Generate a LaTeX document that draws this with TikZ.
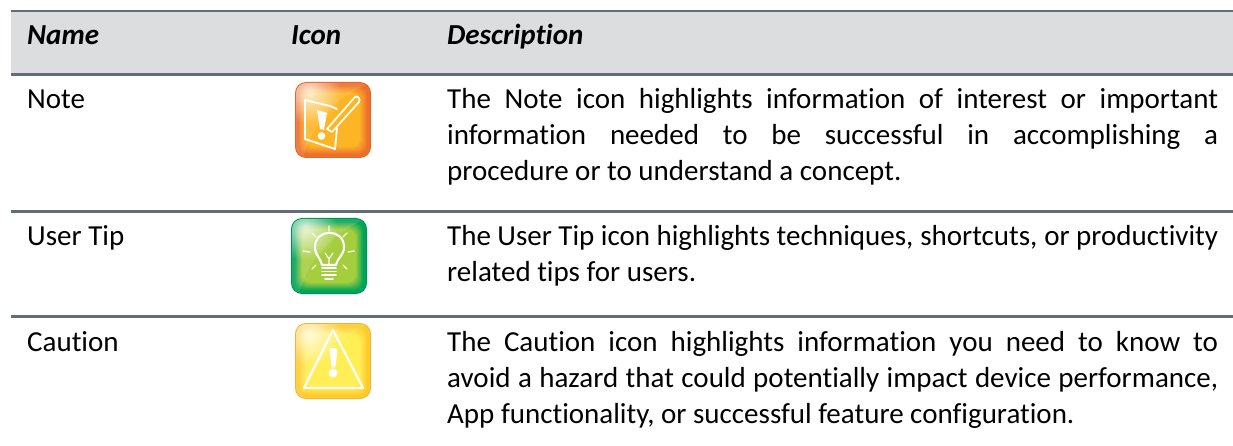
\documentclass[tikz,border=0pt]{standalone}
\usepackage{fontspec}
\setmainfont[Ligatures={NoCommon}]{Carlito}
\usetikzlibrary{fadings}
\definecolor{rulec}{HTML}{616D7A}
\definecolor{headbg}{HTML}{DCDDDF}
\definecolor{orb}{HTML}{E2672B}
\definecolor{oro}{HTML}{EE6F2D}
\definecolor{ori}{HTML}{FDB525}
\definecolor{grb}{HTML}{008F50}
\definecolor{gro}{HTML}{00A45A}
\definecolor{gri}{HTML}{A5CE3F}
\definecolor{yeb}{HTML}{F0B441}
\definecolor{yeo}{HTML}{FFCB2B}
\definecolor{yei}{HTML}{FFEE55}
\tikzfading[name=glossfade,inner color=transparent!25,outer color=transparent!100]
\AtBeginDocument{\hyphenpenalty=10000 \exhyphenpenalty=10000 \tolerance=9999 \emergencystretch=40pt}
\tikzset{
  x=1pt,y=-1pt,
  rulethin/.style={draw=rulec,line width=2pt},
  rulel/.style={draw=rulec,line width=3pt},
  cell/.style={anchor=base west,inner sep=0pt,font=\fontsize{29}{36}\selectfont,text=black},
  head/.style={anchor=base west,inner sep=0pt,font=\fontsize{29}{36}\selectfont\bfseries\itshape,text=black},
  desc/.style={anchor=base west,inner sep=0pt,text width=771pt,align=justify,font=\fontsize{29}{36}\selectfont,text=black},
  glyph/.style={draw=white,line width=1.8pt,line join=round,line cap=round},
  raygl/.style={draw=white!85!yellow,line width=1.4pt,line cap=round},
}
% #1 border, #2 outer, #3 inner centre
\newcommand{\iconbase}[3]{%
  \fill[#1,rounded corners=11pt] (0,0) rectangle (76,76);
  \fill[#2,rounded corners=10pt] (1,1) rectangle (75,75);
  \foreach \i in {0,...,8}{%
    \pgfmathtruncatemacro\mixv{\i*12.5}%
    \fill[#3!\mixv!#2,rounded corners=9pt] ({3+\i},{3+\i}) rectangle ({73-\i},{73-\i});
  }
  \begin{scope}
    \clip[rounded corners=10pt] (1,1) rectangle (75,75);
    \fill[white,opacity=.10] (0,0) -- (76,0) .. controls (60,8) and (22,25) .. (8,76) -- (0,76) -- cycle;
    \fill[white,path fading=glossfade] (14,10) circle (32);
  \end{scope}
}
\begin{document}
\begin{tikzpicture}
\useasboundingbox (0,0) rectangle (1233,446);
\fill[white] (0,0) rectangle (1233,446);
\fill[headbg] (11,11) rectangle (1233,74);
\draw[rulethin] (11,11) -- (1233,11);
\draw[rulel] (11,74.5) -- (1233,74.5);
\draw[rulel] (11,211.5) -- (1233,211.5);
\draw[rulel] (11,316.5) -- (1233,316.5);
\node[head] (hname) at (27,45) {Name};
\node[head] (hicon) at (291,45) {Icon};
\node[head] (hdesc) at (447,45) {Description};
\node[cell] (n1) at (27,109) {Note};
\node[cell] (n2) at (27,245) {User Tip};
\node[cell] (n3) at (27,351) {Caution};
\node[desc] (d1) at (447,109) {The Note icon highlights information of interest or important\linebreak information needed to be successful in accomplishing a\linebreak procedure or to understand a concept.};
\node[desc] (d2) at (447,245) {{\spaceskip=0.16em plus 0.1em minus 0.05em The User Tip icon highlights techniques, shortcuts, or productivity}\linebreak related tips for users.};
\node[desc] (d3) at (447,351) {The Caution icon highlights information you need to know to\linebreak avoid a hazard that could potentially impact device performance,\linebreak App functionality, or successful feature configuration.};
% note icon
\begin{scope}[shift={(295,82)}]
\iconbase{orb}{oro}{ori}
\draw[glyph] (42,27) -- (35,24) -- (10,18) -- (10,57) -- (40,67) -- (42,46);
\fill[white] (22,28) -- (32,31) -- (29,48) -- (25,47) -- cycle;
\fill[white] (26.5,54) circle (3.8);
\draw[glyph,line width=1.7pt] (32,47) -- (60,15) .. controls (62,13) and (66,17) .. (64,20) -- (37,50) -- cycle;
\end{scope}
% tip icon
\begin{scope}[shift={(291,218)}]
\iconbase{grb}{gro}{gri}
\draw[glyph,line width=2.1pt] (31,47) .. controls (29,39) and (24,37) .. (24,29) .. controls (24,10) and (53,10) .. (53,29) .. controls (53,37) and (47,39) .. (45,47) -- cycle;
\draw[glyph,line width=1.2pt] (34,35) -- (38,41) -- (42,35) (38,41) -- (38,47);
\draw[glyph,line width=1.6pt] (31,50) -- (45,50) (31,53.5) -- (45,53.5) (31,57) -- (45,57);
\draw[glyph,line width=1.6pt] (34,61) -- (42,61);
\draw[raygl] (38,8) -- (38,13) (21,15) -- (25,19) (56,15) -- (52,19) (12,33) -- (19,34) (57,34) -- (63,33) (21,51) -- (25,47) (56,51) -- (52,47);
\end{scope}
% caution icon
\begin{scope}[shift={(295,323)}]
\iconbase{yeb}{yeo}{yei}
\draw[glyph,line width=2.1pt] (38,7) -- (68,65) -- (9,65) -- cycle;
\fill[white,rounded corners=2pt] (34.5,25) -- (42.5,25) -- (40.5,45) -- (36.5,45) -- cycle;
\fill[white] (38,50) circle (4.5);
\end{scope}
\end{tikzpicture}
\end{document}
